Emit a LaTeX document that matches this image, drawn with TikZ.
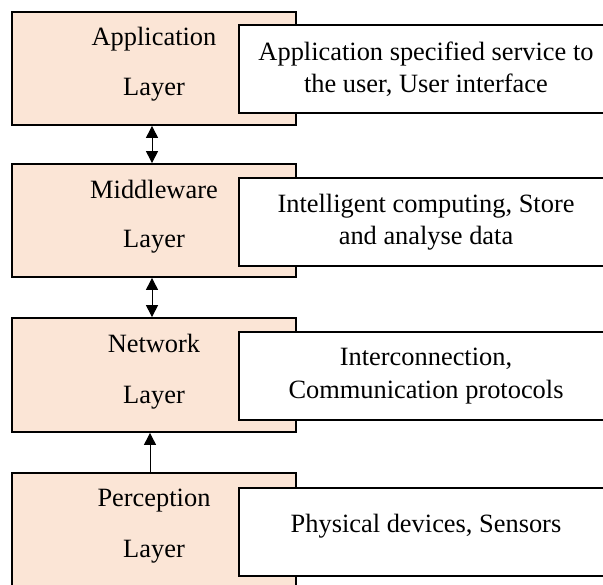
\documentclass[tikz,border=0pt]{standalone}
\usepackage{fontspec}
\setmainfont{Liberation Serif}
\usetikzlibrary{arrows.meta}
\definecolor{peach}{HTML}{FBE5D6}
\begin{document}
\begin{tikzpicture}[x=0.5pt,y=-0.5pt,
  layerbox/.style={draw=black,line width=0.9pt,fill=peach,minimum width=142pt,minimum height=56.5pt,inner sep=0pt},
  descbox/.style={draw=black,line width=0.9pt,fill=white,minimum width=187pt,minimum height=44pt,inner sep=0pt,align=center,font=\fontsize{13.2}{16.25}\selectfont},
  lbl/.style={font=\fontsize{13.2}{16}\selectfont,inner sep=0pt,anchor=base},
  conn/.style={line width=0.5pt,-{Triangle[width=6pt,length=6pt]}},
  dconn/.style={line width=0.5pt,{Triangle[width=6pt,length=6pt]}-{Triangle[width=6pt,length=6pt]}}
  ]
\useasboundingbox (0,0) rectangle (603,584);
\clip (0,0) rectangle (603,584);
% layer boxes
\node[layerbox] (app) at (154,68.5) {};
\node[layerbox] (mid) at (154,220.5) {};
\node[layerbox,minimum height=57pt] (net) at (154,375) {};
\node[layerbox] (per) at (154,529.5) {};
% layer labels
\node[lbl] (appA) at (154,45) {Application};
\node[lbl] (appB) at (154,95) {Layer};
\node[lbl] (midA) at (154,198) {Middleware};
\node[lbl] (midB) at (154,247) {Layer};
\node[lbl] (netA) at (154,352) {Network};
\node[lbl] (netB) at (154,403) {Layer};
\node[lbl] (perA) at (154,506) {Perception};
\node[lbl] (perB) at (154,557) {Layer};
% description boxes
\node[descbox] (appD) at (426,69) {Application specified service to\\the user, User interface};
\node[descbox] (midD) at (426,222) {Intelligent computing, Store\\and analyse data};
\node[descbox] (netD) at (426,376) {Interconnection,\\Communication protocols};
\node[descbox,text height=9pt,text depth=9pt] (perD) at (426,532) {Physical devices, Sensors};
% connectors
\draw[dconn] ([xshift=-1pt]app.south) -- ([xshift=-1pt]mid.north);
\draw[dconn] ([xshift=-1pt]mid.south) -- ([xshift=-1pt]net.north);
\draw[conn] ([xshift=-2pt]per.north) -- ([xshift=-2pt]net.south);
\end{tikzpicture}
\end{document}
